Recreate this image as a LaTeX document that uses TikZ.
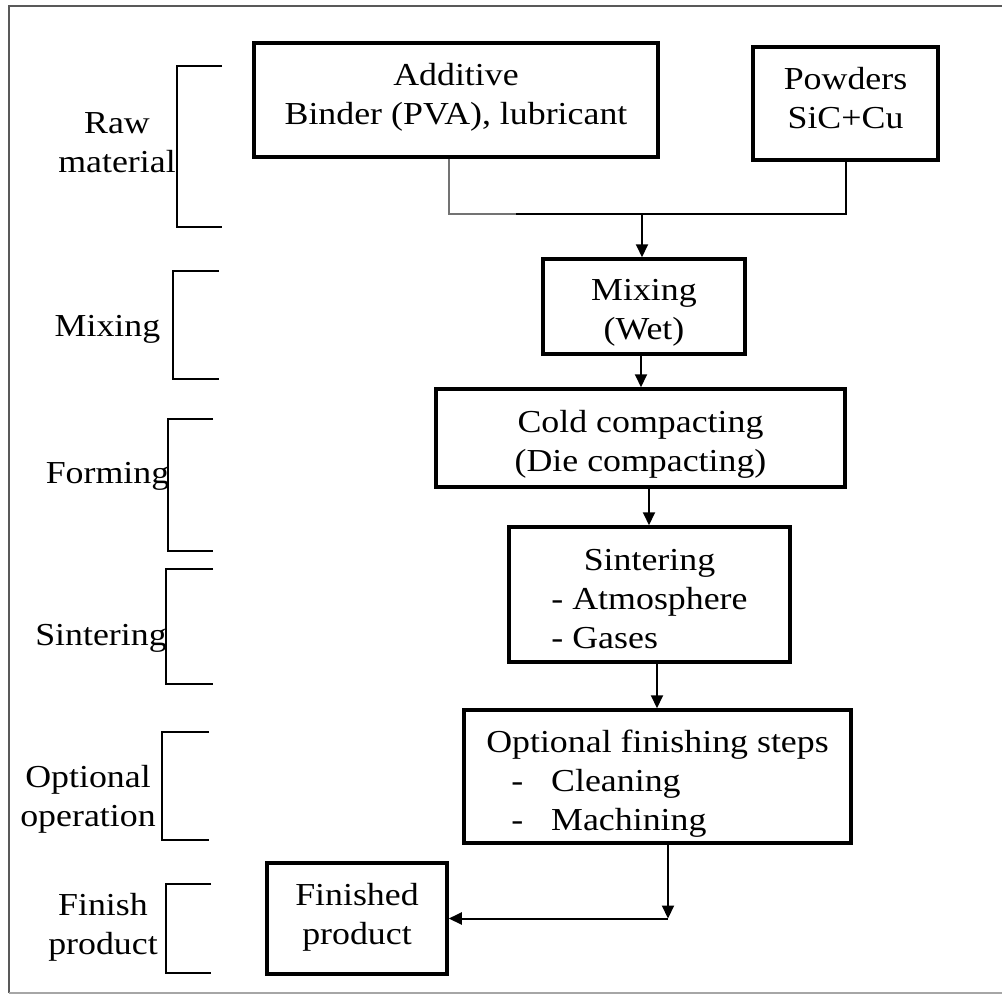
\documentclass[tikz,border=0pt]{standalone}
\usepackage{fontspec}
\setmainfont{Liberation Serif}[FakeStretch=1.12]
\usetikzlibrary{arrows.meta}
\newcommand\diagfont{\fontsize{32}{39}\selectfont}
% text block whose first baseline sits #1 below... raised by #1 from node centre
\newcommand\btext[2]{\raisebox{#1}[0pt][0pt]{\begin{tabular}[t]{@{}c@{}}#2\end{tabular}}}
\newcommand\btextl[2]{\raisebox{#1}[0pt][0pt]{\begin{tabular}[t]{@{}l@{}}#2\end{tabular}}}
\begin{document}
\begin{tikzpicture}[x=1pt,y=-1pt,
  box/.style={draw,line width=3.5pt,inner sep=0pt,font=\diagfont},
  lab/.style={inner sep=0pt,font=\diagfont},
  brk/.style={line width=1.5pt},
  conn/.style={line width=2pt},
  arr/.style={line width=2pt,-{Triangle[length=13pt,width=12pt]}}]
\useasboundingbox (0,0) rectangle (1002,994);
% frame
\draw[line width=2pt,black!65] (9,993) -- (9,5.5) -- (1002,5.5);
\draw[line width=1.5pt,black!35] (9,993) -- (1002,993);

% boxes
\node[box,minimum width=404pt,minimum height=114pt] (add) at (456,100) {\btext{15pt}{Additive\\Binder (PVA), lubricant}};
\node[box,minimum width=185pt,minimum height=113pt] (pow) at (845.5,103.5) {\btext{14.5pt}{Powders\\SiC+Cu}};
\node[box,minimum width=202pt,minimum height=95pt] (mix) at (644,306.5) {\btext{6.5pt}{Mixing\\(Wet)}};
\node[box,minimum width=409pt,minimum height=98pt] (cold) at (640.5,438) {\btext{6pt}{Cold compacting\\(Die compacting)}};
\node[box,minimum width=281pt,minimum height=135pt] (sint) at (649.5,594.5) {\btextl{24.5pt}{\multicolumn{1}{@{}c@{}}{Sintering}\\- Atmosphere\\- Gases}};
\node[box,minimum width=387pt,minimum height=133pt] (opt) at (657.5,776.5) {\btextl{24.5pt}{Optional finishing steps\\\hspace{25pt}-\hspace{28pt}Cleaning\\\hspace{25pt}-\hspace{28pt}Machining}};
\node[box,minimum width=180pt,minimum height=111pt] (fin) at (357,918.5) {\btext{13.5pt}{Finished\\product}};

% stage labels (node centre = first baseline)
\node[lab] (lraw) at (117,133) {\btext{0pt}{Raw\\material}};
\node[lab] (lmix) at (107.5,336) {\btext{0pt}{Mixing}};
\node[lab] (lform) at (107.5,483) {\btext{0pt}{Forming}};
\node[lab] (lsint) at (101,645) {\btext{0pt}{Sintering}};
\node[lab] (lopt) at (88,787) {\btext{0pt}{Optional\\operation}};
\node[lab] (lfin) at (103,915) {\btext{0pt}{Finish\\product}};

% brackets
\draw[brk] (222,66) -- (177,66) -- (177,227) -- (222,227);
\draw[brk] (219,271) -- (173,271) -- (173,379) -- (219,379);
\draw[brk] (213,419) -- (168,419) -- (168,551) -- (213,551);
\draw[brk] (213,569) -- (166,569) -- (166,684) -- (213,684);
\draw[brk] (209,732) -- (162,732) -- (162,840) -- (209,840);
\draw[brk] (211,884) -- (166,884) -- (166,973) -- (211,973);

% connectors
\coordinate (j) at (642,214);
\coordinate (g) at (516,214);
\draw[conn,black!55] ([xshift=-7pt]add.south) |- (g);
\draw[conn] (pow.south) |- (g);
\draw[arr] (j) -- (j |- mix.north);
\coordinate (c1) at ([xshift=-3pt]mix.south);
\draw[arr] (c1) -- (c1 |- cold.north);
\coordinate (c2) at ([xshift=8.5pt]cold.south);
\draw[arr] (c2) -- (c2 |- sint.north);
\coordinate (c3) at ([xshift=7.5pt]sint.south);
\draw[arr] (c3) -- (c3 |- opt.north);
\coordinate (c4) at ([xshift=10.5pt]opt.south);
\coordinate (k) at (c4 |- fin.east);
\draw[arr] (c4) -- (k);
\draw[arr] (k) -- (fin.east);
\end{tikzpicture}
\end{document}
